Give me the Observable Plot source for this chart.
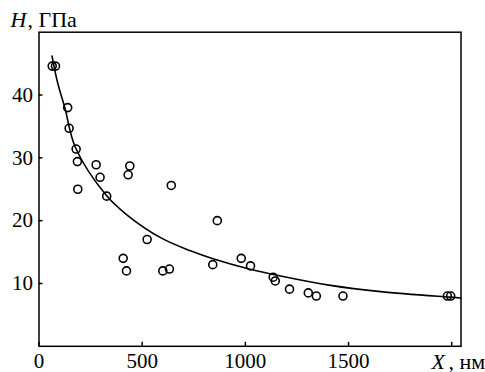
<!DOCTYPE html>
<html><head><meta charset="utf-8">
<script src="https://cdn.jsdelivr.net/npm/d3@7"></script>
<script src="https://cdn.jsdelivr.net/npm/@observablehq/plot@0.6"></script>
<style>body{margin:0;background:#fff}</style>
</head><body><div id="chart"></div>
<script>
const pointX = [64, 80, 139, 146, 180, 186, 188, 277, 296, 328, 408, 424, 432, 440, 524, 600, 632, 641, 842, 864, 980, 1025, 1135, 1145, 1214, 1305, 1344, 1473, 1979, 1995];
const pointH = [44.6, 44.6, 38.0, 34.7, 31.4, 29.4, 25.0, 28.9, 26.9, 23.9, 14.0, 12.0, 27.3, 28.7, 17.0, 12.0, 12.3, 25.6, 13.0, 20.0, 14.0, 12.8, 11.0, 10.4, 9.1, 8.5, 8.0, 8.0, 8.0, 8.0];
const curveX = [63, 90, 125, 177, 327, 427, 589, 734, 847, 1009, 1171, 1413, 1656, 1979, 2045];
const curveH = [46.2, 42.0, 38.0, 31.6, 24.0, 20.9, 17.3, 15.2, 13.9, 12.4, 11.2, 9.7, 8.7, 7.85, 7.7];
const xTicks = [0, 500, 1000, 1500, 2000];
const xTickLabels = [0, 500, 1000, 1500];
const yTicks = [10, 20, 30, 40];
const yLabel = ["H", ", ГПа"];
const xLabel = ["X", ", нм"];

const FONT = "Liberation Serif";
const points = pointX.map((x, i) => ({x, h: pointH[i]}));
const curve = curveX.map((x, i) => ({x, h: curveH[i]}));

const plot = Plot.plot({
  width: 485, height: 372,
  marginLeft: 38.5, marginRight: 24.5, marginTop: 31.7, marginBottom: 26.2,
  style: {background: "white", color: "black", fontSize: "21px"},
  x: {domain: [0, 2045]},
  y: {domain: [0, 50]},
  marks: [
    Plot.axisX({ticks: xTicks, tickSize: -4, tickFormat: () => "", label: null, strokeWidth: 1.5}),
    Plot.axisY({ticks: yTicks, tickSize: -4, tickFormat: () => "", label: null, strokeWidth: 1.5}),
    Plot.text(xTickLabels, {x: d => d, text: d => String(d), frameAnchor: "bottom", lineAnchor: "top", dy: 7, fontFamily: FONT, fontSize: 21}),
    Plot.text(yTicks, {y: d => d, text: d => String(d), frameAnchor: "left", textAnchor: "end", dx: -6, fontFamily: FONT, fontSize: 21}),
    Plot.line(curve, {x: "x", y: "h", curve: "catmull-rom", stroke: "black", strokeWidth: 1.6}),
    Plot.dot(points, {x: "x", y: "h", r: 4, stroke: "black", strokeWidth: 1.6, fill: "none"}),
    Plot.frame({stroke: "black", strokeWidth: 1.5}),
    Plot.text([yLabel[0]], {frameAnchor: "top-left", textAnchor: "start", lineAnchor: "middle", dx: -28.5, dy: -12.7, fontFamily: FONT, fontSize: 22, fontStyle: "italic"}),
    Plot.text([yLabel[1]], {frameAnchor: "top-left", textAnchor: "start", lineAnchor: "middle", dx: -11.5, dy: -12.7, fontFamily: FONT, fontSize: 22}),
    Plot.text([xLabel[0]], {frameAnchor: "bottom-right", textAnchor: "start", lineAnchor: "middle", dx: -29.5, dy: 15.7, fontFamily: FONT, fontSize: 22, fontStyle: "italic"}),
    Plot.text([xLabel[1]], {frameAnchor: "bottom-right", textAnchor: "start", lineAnchor: "middle", dx: -12.5, dy: 15.7, fontFamily: FONT, fontSize: 22})
  ]
});
document.getElementById("chart").appendChild(plot);
</script>
</body></html>
